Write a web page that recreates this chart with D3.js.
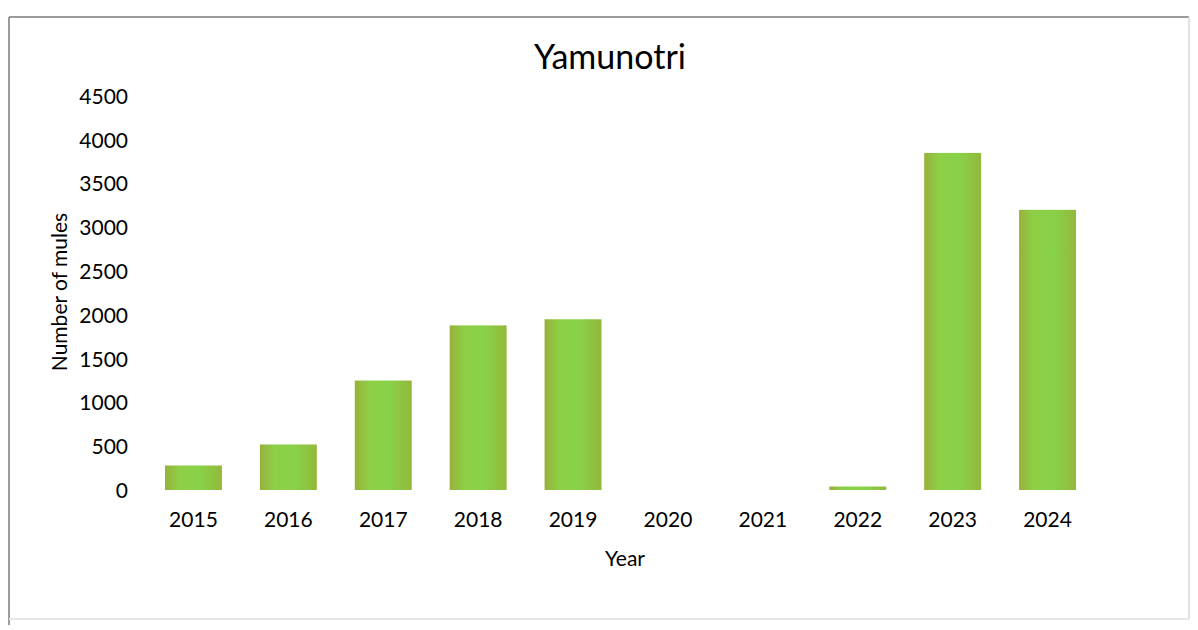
<!DOCTYPE html>
<html>
<head>
<meta charset="utf-8">
<script src="https://cdn.jsdelivr.net/npm/d3@7"></script>
<style>
  body { margin: 0; background: #fff; }
  svg text { font-family: Lato, "Open Sans", sans-serif; fill: #000; }
</style>
</head>
<body>
<div id="chart"></div>
<script>
// Values
var years  = ["2015", "2016", "2017", "2018", "2019", "2020", "2021", "2022", "2023", "2024"];
var mules  = [280, 520, 1250, 1880, 1950, 0, 0, 40, 3850, 3200];
var yTicks = [0, 500, 1000, 1500, 2000, 2500, 3000, 3500, 4000, 4500];

var width = 1198, height = 630;

var svg = d3.select("#chart").append("svg")
    .attr("width", width)
    .attr("height", height);

// frame around the chart area
svg.append("line").attr("x1", 9).attr("y1", 17).attr("x2", 1189).attr("y2", 17)
    .attr("stroke", "#7a7a7a").attr("stroke-width", 1.5);
svg.append("line").attr("x1", 9).attr("y1", 17).attr("x2", 9).attr("y2", 625)
    .attr("stroke", "#7a7a7a").attr("stroke-width", 1.5);
svg.append("line").attr("x1", 1189).attr("y1", 17).attr("x2", 1189).attr("y2", 619)
    .attr("stroke", "#e2e2e2").attr("stroke-width", 2);
svg.append("line").attr("x1", 9).attr("y1", 619).attr("x2", 1189).attr("y2", 619)
    .attr("stroke", "#e6e6e6").attr("stroke-width", 2);

//Gradient for the bars, darker at the edges
var grad = svg.append("defs").append("linearGradient")
    .attr("id", "barGrad")
    .attr("x1", "0%").attr("x2", "100%").attr("y1", "0%").attr("y2", "0%");
grad.append("stop").attr("offset", "0%").attr("stop-color", "#98b03c");
grad.append("stop").attr("offset", "25%").attr("stop-color", "#8ecf45");
grad.append("stop").attr("offset", "60%").attr("stop-color", "#88d24a");
grad.append("stop").attr("offset", "100%").attr("stop-color", "#94b83a");

var x = d3.scaleBand()
    .domain(years)
    .range([146, 1095])
    .paddingInner(0.4)
    .paddingOuter(0.2);

var y = d3.scaleLinear()
    .domain([0, 4500])
    .range([490, 96]);

// y tick labels only (no axis line, no gridlines)
var yAxis = svg.append("g")
    .attr("transform", "translate(128,0)")
    .call(d3.axisLeft(y).tickValues(yTicks).tickFormat(d3.format("d")).tickSize(0).tickPadding(0));
yAxis.select(".domain").remove();
yAxis.selectAll("text").style("font-size", "21px").attr("dy", "0.35em");

// x tick labels
var xAxis = svg.append("g")
    .attr("transform", "translate(0,511)")
    .call(d3.axisBottom(x).tickSize(0).tickPadding(0));
xAxis.select(".domain").remove();
xAxis.selectAll("text").style("font-size", "21px").attr("dy", "0.75em");

// bars
svg.append("g").selectAll("rect")
    .data(years)
    .enter().append("rect")
    .attr("x", function(d) { return x(d); })
    .attr("width", x.bandwidth())
    .attr("y", function(d, i) { return y(mules[i]); })
    .attr("height", function(d, i) { return y(0) - y(mules[i]); })
    .attr("fill", "url(#barGrad)");

// title
svg.append("text")
    .attr("x", 610).attr("y", 69)
    .attr("text-anchor", "middle")
    .style("font-size", "34px")
    .text("Yamunotri");

// axis titles
svg.append("text")
    .attr("x", 625).attr("y", 566)
    .attr("text-anchor", "middle")
    .style("font-size", "21px")
    .text("Year");

svg.append("text")
    .attr("transform", "translate(67,292) rotate(-90)")
    .attr("text-anchor", "middle")
    .style("font-size", "21px")
    .text("Number of mules");
</script>
</body>
</html>
